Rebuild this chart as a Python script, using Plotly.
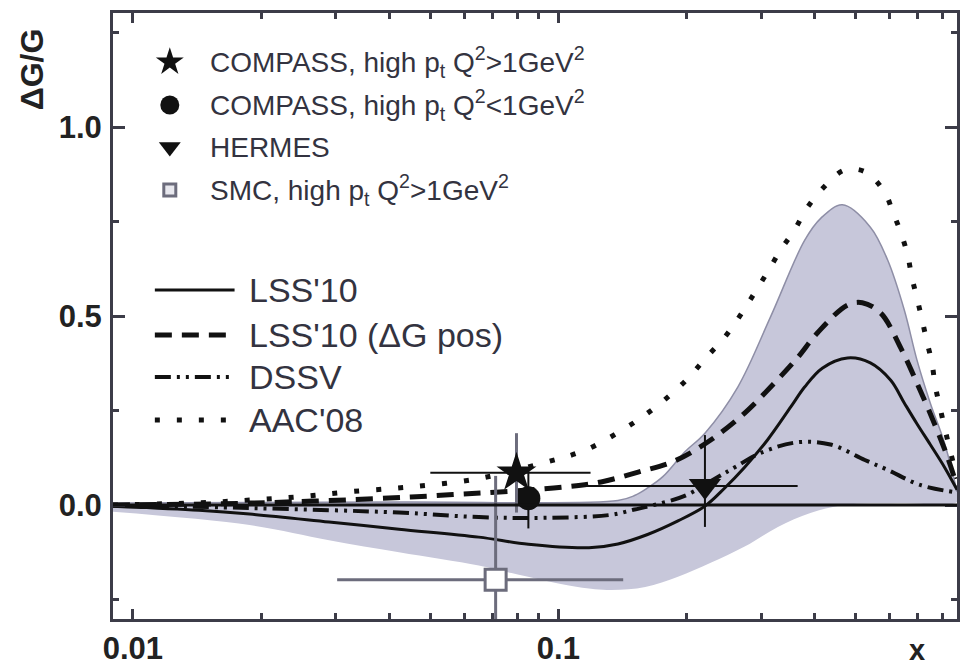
import plotly.graph_objects as go

# ---------------- data ----------------
# LSS'10 (solid)
lss_x = [0.00897, 0.0143, 0.0188, 0.0289, 0.0422, 0.065, 0.085, 0.118, 0.138, 0.162, 0.191,
         0.221, 0.246, 0.274, 0.310, 0.352, 0.379, 0.417, 0.478, 0.541, 0.604, 0.650, 0.696,
         0.748, 0.808, 0.865]
lss_y = [-0.003, -0.014, -0.024, -0.045, -0.064, -0.085, -0.104, -0.113, -0.103, -0.078, -0.042,
         -0.003, 0.045, 0.10, 0.172, 0.26, 0.312, 0.362, 0.389, 0.376, 0.33, 0.27, 0.215,
         0.16, 0.10, 0.04]

# LSS'10 (DeltaG pos) (dashed)
lssp_x = [0.00897, 0.0188, 0.045, 0.059, 0.0712, 0.104, 0.126, 0.154, 0.188, 0.228, 0.274,
          0.322, 0.365, 0.406, 0.478, 0.518, 0.572, 0.638, 0.696, 0.764, 0.821, 0.865]
lssp_y = [0.0, 0.005, 0.021, 0.029, 0.034, 0.048, 0.061, 0.087, 0.117, 0.172, 0.243,
          0.323, 0.39, 0.455, 0.529, 0.535, 0.508, 0.415, 0.323, 0.217, 0.127, 0.05]

# DSSV (dash-dot-dot)
dssv_x = [0.00897, 0.0188, 0.0422, 0.065, 0.093, 0.133, 0.151, 0.165, 0.198, 0.237, 0.26,
          0.299, 0.365, 0.436, 0.525, 0.594, 0.708, 0.853]
dssv_y = [0.0, -0.008, -0.02, -0.032, -0.034, -0.026, -0.012, -0.002, 0.024, 0.074, 0.10,
          0.138, 0.166, 0.16, 0.119, 0.093, 0.053, 0.034]

# AAC'08 (dotted)
aac_x = [0.00897, 0.0143, 0.0188, 0.0246, 0.0322, 0.045, 0.065, 0.0912, 0.116, 0.144, 0.162,
         0.181, 0.202, 0.222, 0.246, 0.268, 0.289, 0.310, 0.333, 0.359, 0.384, 0.421, 0.470,
         0.527, 0.584, 0.611, 0.638, 0.662, 0.677, 0.696, 0.716, 0.735, 0.755, 0.768, 0.786,
         0.808, 0.830, 0.853, 0.865]
aac_y = [0.0, 0.006, 0.013, 0.022, 0.035, 0.048, 0.07, 0.11, 0.146, 0.204, 0.243,
         0.286, 0.336, 0.389, 0.444, 0.503, 0.561, 0.616, 0.675, 0.728, 0.786, 0.841, 0.886,
         0.881, 0.828, 0.775, 0.72, 0.661, 0.603, 0.548, 0.489, 0.431, 0.376, 0.317, 0.265,
         0.206, 0.151, 0.098, 0.07]

# LSS'10 uncertainty band
band_up_x = [0.00897, 0.0422, 0.138, 0.151, 0.162, 0.176, 0.198, 0.221, 0.264, 0.315, 0.379,
             0.414, 0.465, 0.541, 0.594, 0.650, 0.696, 0.748, 0.808, 0.865]
band_up_y = [0.005, 0.008, 0.012, 0.025, 0.045, 0.075, 0.14, 0.19, 0.312, 0.497, 0.70,
             0.759, 0.794, 0.735, 0.648, 0.516, 0.384, 0.27, 0.164, 0.035]
band_lo_x = [0.00897, 0.0188, 0.0289, 0.0422, 0.065, 0.0776, 0.111, 0.133, 0.160, 0.191, 0.228,
             0.274, 0.328, 0.391, 0.470, 0.628, 0.865]
band_lo_y = [-0.018, -0.053, -0.093, -0.125, -0.16, -0.18, -0.217, -0.225, -0.217, -0.19, -0.153,
             -0.11, -0.058, -0.021, 0.0, 0.005, 0.008]

# experimental points
compass_hi_x = [0.0797]
compass_hi_y = [0.085]
compass_hi_ex_lo = [0.0297]
compass_hi_ex_hi = [0.0393]
compass_hi_ey = [0.105]

compass_lo_x = [0.085]
compass_lo_y = [0.018]
compass_lo_ey = [0.08]

hermes_x = [0.221]
hermes_y = [0.05]
hermes_ex_lo = [0.105]
hermes_ex_hi = [0.144]
hermes_ey_hi = [0.135]
hermes_ey_lo = [0.108]

smc_x = [0.0712]
smc_y = [-0.198]
smc_ex_lo = [0.041]
smc_ex_hi = [0.0708]
smc_ey = [0.275]

# axes
x_range_log = [-2.0468, -0.0632]
y_range = [-0.3016, 1.3016]
x_major = [0.01, 0.1]
x_major_text = ["0.01", "0.1"]
x_minor = [0.02, 0.03, 0.04, 0.05, 0.06, 0.07, 0.08, 0.09, 0.2, 0.3, 0.4, 0.5, 0.6, 0.7, 0.8]
y_major = [0.0, 0.5, 1.0]
y_major_text = ["0.0", "0.5", "1.0"]
y_minor = [-0.25, 0.25, 0.75, 1.25]

marker_labels = [
    "COMPASS, high p<sub>t</sub> Q<sup>2</sup>&gt;1GeV<sup>2</sup>",
    "COMPASS, high p<sub>t</sub> Q<sup>2</sup>&lt;1GeV<sup>2</sup>",
    "HERMES",
    "SMC, high p<sub>t</sub> Q<sup>2</sup>&gt;1GeV<sup>2</sup>",
]
line_labels = ["LSS'10", "LSS'10 (\u0394G pos)", "DSSV", "AAC'08"]

# ---------------- styling / layout constants ----------------
W, H = 962, 670
ML, MR, MT, MB = 113, 2, 13, 51
AX = "#3c3c48"
TXT = "#333340"
BAND = "#c7c7da"
BAND_EDGE = "#8e8ea6"
GREY = "#6c6c7c"
BLK = "#111111"
SM = 1.0

DASH_POS = "17px,10px"
DASH_DSSV = "16px,6px,3px,6px,3px,6px"
DASH_AAC = "5px,17px"

fig = go.Figure()

# band polygon
fig.add_trace(go.Scatter(
    x=band_up_x + band_lo_x[::-1], y=band_up_y + band_lo_y[::-1],
    mode="lines", fill="toself", fillcolor=BAND,
    line=dict(width=0, shape="spline", smoothing=SM),
    hoverinfo="skip"))
fig.add_trace(go.Scatter(
    x=band_up_x, y=band_up_y, mode="lines",
    line=dict(color=BAND_EDGE, width=1.5, shape="spline", smoothing=SM),
    hoverinfo="skip"))

# theory curves
fig.add_trace(go.Scatter(x=aac_x, y=aac_y, mode="lines",
                         line=dict(color=BLK, width=5, dash=DASH_AAC, shape="spline", smoothing=SM)))
fig.add_trace(go.Scatter(x=dssv_x, y=dssv_y, mode="lines",
                         line=dict(color=BLK, width=4, dash=DASH_DSSV, shape="spline", smoothing=SM)))
fig.add_trace(go.Scatter(x=lssp_x, y=lssp_y, mode="lines",
                         line=dict(color=BLK, width=5, dash=DASH_POS, shape="spline", smoothing=SM)))
fig.add_trace(go.Scatter(x=lss_x, y=lss_y, mode="lines",
                         line=dict(color=BLK, width=3, shape="spline", smoothing=SM)))

# experimental points
fig.add_trace(go.Scatter(
    x=smc_x, y=smc_y, mode="markers",
    marker=dict(symbol="square", size=21, color="white", line=dict(color=GREY, width=3)),
    error_x=dict(type="data", symmetric=False, array=smc_ex_hi, arrayminus=smc_ex_lo,
                 color=GREY, thickness=3, width=0),
    error_y=dict(type="data", array=smc_ey, color=GREY, thickness=3, width=0)))
fig.add_trace(go.Scatter(
    x=compass_lo_x, y=compass_lo_y, mode="markers",
    marker=dict(symbol="circle", size=24, color=BLK),
    error_y=dict(type="data", array=compass_lo_ey, color=BLK, thickness=2, width=0)))
fig.add_trace(go.Scatter(
    x=compass_hi_x, y=compass_hi_y, mode="markers",
    marker=dict(symbol="star", size=30, color=BLK),
    error_x=dict(type="data", symmetric=False, array=compass_hi_ex_hi, arrayminus=compass_hi_ex_lo,
                 color=BLK, thickness=2, width=0),
    error_y=dict(type="data", array=compass_hi_ey, color=GREY, thickness=3, width=0)))
fig.add_trace(go.Scatter(
    x=hermes_x, y=hermes_y, mode="markers",
    marker=dict(symbol="triangle-down", size=28, color=BLK),
    error_x=dict(type="data", symmetric=False, array=hermes_ex_hi, arrayminus=hermes_ex_lo,
                 color=BLK, thickness=2, width=0),
    error_y=dict(type="data", symmetric=False, array=hermes_ey_hi, arrayminus=hermes_ey_lo,
                 color=BLK, thickness=2, width=0)))

# ---------------- legend on a pixel overlay axis ----------------
leg_mark_x = 170
leg_mark_rows = [62, 105, 147, 190]
leg_text_x = 208
symbols = [("star", 21, BLK, BLK, 0), ("circle", 19, BLK, BLK, 0),
           ("triangle-down", 19, BLK, BLK, 0), ("square", 12, "#e8e8ee", GREY, 3)]
for (sym, sz, col, lc, lw), yy in zip(symbols, leg_mark_rows):
    fig.add_trace(go.Scatter(x=[leg_mark_x], y=[yy], xaxis="x2", yaxis="y2", mode="markers",
                             marker=dict(symbol=sym, size=sz, color=col, line=dict(color=lc, width=lw))))

line_rows = [290, 335, 377, 420]
line_styles = [("solid", 3), (DASH_POS, 5), (DASH_DSSV, 4), (DASH_AAC, 5)]
for (dsh, lw), yy in zip(line_styles, line_rows):
    fig.add_trace(go.Scatter(x=[155, 235], y=[yy, yy], xaxis="x2", yaxis="y2", mode="lines",
                             line=dict(color=BLK, width=lw, dash=dsh)))

annotations = []
for lab, yy in zip(marker_labels, leg_mark_rows):
    annotations.append(dict(x=leg_text_x, y=yy, xref="x2", yref="y2", text=lab, showarrow=False,
                            xanchor="left", yanchor="middle",
                            font=dict(family="Liberation Sans, Arial", size=28, color=TXT)))
for lab, yy in zip(line_labels, line_rows):
    annotations.append(dict(x=247, y=yy, xref="x2", yref="y2", text=lab, showarrow=False,
                            xanchor="left", yanchor="middle",
                            font=dict(family="Liberation Sans, Arial", size=34, color=TXT)))


def px2paper(px, py):
    return (px - ML) / (W - ML - MR), (H - MB - py) / (H - MT - MB)


tx, ty = px2paper(32, 69)
annotations.append(dict(x=tx, y=ty, xref="paper", yref="paper", text="<b>\u0394G/G</b>",
                        showarrow=False, textangle=-90, xanchor="center", yanchor="middle",
                        font=dict(family="Liberation Sans, Arial", size=32, color="#222")))
tx, ty = px2paper(920, 650)
annotations.append(dict(x=tx, y=ty, xref="paper", yref="paper", text="<b>x</b>",
                        showarrow=False, xanchor="center", yanchor="middle",
                        font=dict(family="Liberation Sans, Arial", size=29, color="#222")))

tickfont = dict(family="Liberation Sans, Arial", size=31, color="#222", weight="bold")

fig.update_layout(
    width=W, height=H,
    margin=dict(l=ML, r=MR, t=MT, b=MB, pad=0),
    paper_bgcolor="white", plot_bgcolor="white",
    showlegend=False,
    annotations=annotations,
    shapes=[dict(type="line", xref="paper", x0=0, x1=1, yref="y", y0=0, y1=0,
                 line=dict(color=BLK, width=3), layer="above")],
    xaxis=dict(type="log", range=x_range_log, showgrid=False, zeroline=False,
               showline=True, linecolor=AX, linewidth=3, mirror="allticks",
               ticks="inside", ticklen=10, tickwidth=2.5, tickcolor=AX,
               tickmode="array", tickvals=x_major, ticktext=x_major_text,
               tickfont=tickfont, ticklabelstandoff=0,
               minor=dict(tickmode="array", tickvals=x_minor, ticks="inside",
                          ticklen=6, tickwidth=2.5, tickcolor=AX, showgrid=False)),
    yaxis=dict(range=y_range, showgrid=False, zeroline=False,
               showline=True, linecolor=AX, linewidth=3, mirror="allticks",
               ticks="inside", ticklen=12, tickwidth=2.5, tickcolor=AX,
               tickmode="array", tickvals=y_major, ticktext=y_major_text,
               tickfont=tickfont, ticklabelstandoff=2,
               minor=dict(tickmode="array", tickvals=y_minor, ticks="inside",
                          ticklen=6, tickwidth=2.5, tickcolor=AX, showgrid=False)),
    xaxis2=dict(overlaying="x", range=[ML, W - MR], visible=False, fixedrange=True),
    yaxis2=dict(overlaying="y", range=[H - MB, MT], visible=False, fixedrange=True),
)

fig.write_html("out.html")
